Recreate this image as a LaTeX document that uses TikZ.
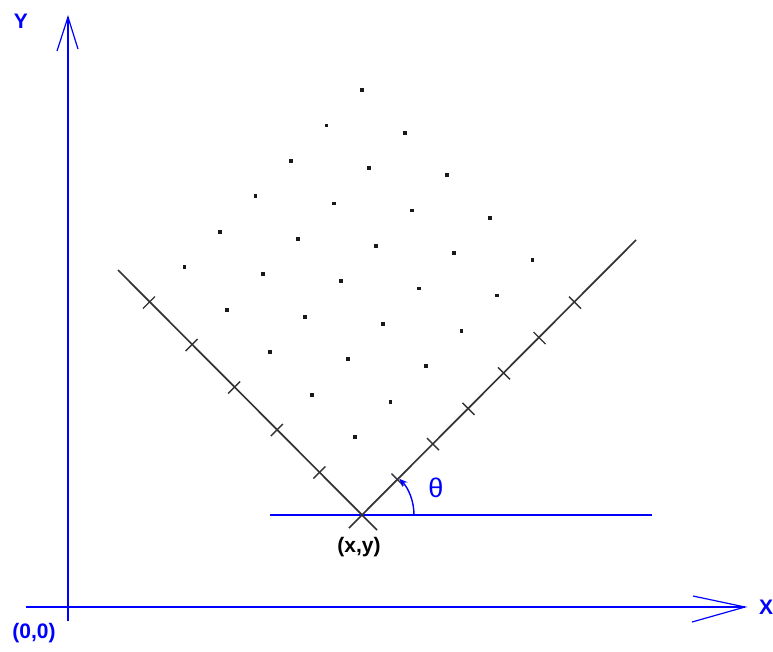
\documentclass[tikz,border=0pt]{standalone}
\usepackage{fontspec}
\setmainfont{Liberation Sans}
\usetikzlibrary{calc,arrows.meta}
\begin{document}
\begin{tikzpicture}[x=1pt,y=-1pt,
  bluel/.style={draw=blue, line width=1.7pt},
  chev/.style={draw=blue, line width=1.2pt},
  frameline/.style={draw=black!80, line width=1.7pt},
  tickline/.style={draw=black!80, line width=1.4pt},
  dot/.style={rectangle, fill=black!90, inner sep=0pt, minimum size=3.8pt},
  blab/.style={text=blue, font=\fontsize{21}{21}\selectfont\bfseries, inner sep=0pt},
  klab/.style={text=black, font=\fontsize{21}{21}\selectfont\bfseries, inner sep=0pt}]
\useasboundingbox[fill=white] (0,0) rectangle (773,651);
% main axes
\coordinate (Ybot) at (68,621);
\coordinate (Ytop) at (68,17);
\coordinate (YL) at (57,51);
\coordinate (YR) at (78,49);
\coordinate (Xl) at (26,607);
\coordinate (Xr) at (745,607);
\coordinate (XU) at (693,596);
\coordinate (XD) at (692,622);
\draw[bluel] (Ybot) -- (Ytop);
\draw[chev] (YL) -- (Ytop) -- (YR);
\draw[bluel] (Xl) -- (Xr);
\draw[chev] (XU) -- (Xr) -- (XD);
\node[blab] (ylab) at (21,21) {Y};
\node[blab, anchor=west] (xlab) at (759,607) {X};
\node[blab] (olab) at (34,633) {(0,0)};
% local frame
\coordinate (O) at (362,515);
\coordinate (H1) at (270,515);
\coordinate (H2) at (652,515);
\draw[bluel] (H1) -- (H2);
\coordinate (Rs) at (349,528);
\coordinate (Re) at (636,240);
\coordinate (Ls) at (377,530);
\coordinate (Le) at (118,270);
\draw[frameline] (Rs) -- (Re);
\draw[frameline] (Ls) -- (Le);
\foreach \i in {1,...,6}
  \draw[tickline] ($(O)+\i*(35.5,-35.4)$) ++(-6,-6) -- ++(12,12);
\foreach \j in {1,...,5}
  \draw[tickline] ($(O)+\j*(-42.6,-42.5)$) ++(-6,6) -- ++(12,-12);
\foreach \i in {1,...,6}
  \foreach \j in {1,...,5}
    \node[dot] (d\i\j) at ($(O)+\i*(35.5,-35.4)+\j*(-42.6,-42.5)$) {};
% angle
\coordinate (A0) at (414,515);
\draw[draw=blue, line width=1.4pt, -{Stealth[length=8pt,width=7pt]}] (A0) arc[start angle=0, end angle=-44, radius=52];
\node[text=blue, font=\fontsize{27}{27}\selectfont, inner sep=0pt] (th) at (436,488) {θ};
\node[klab] (xy) at (359,547) {(x,y)};
\end{tikzpicture}
\end{document}
